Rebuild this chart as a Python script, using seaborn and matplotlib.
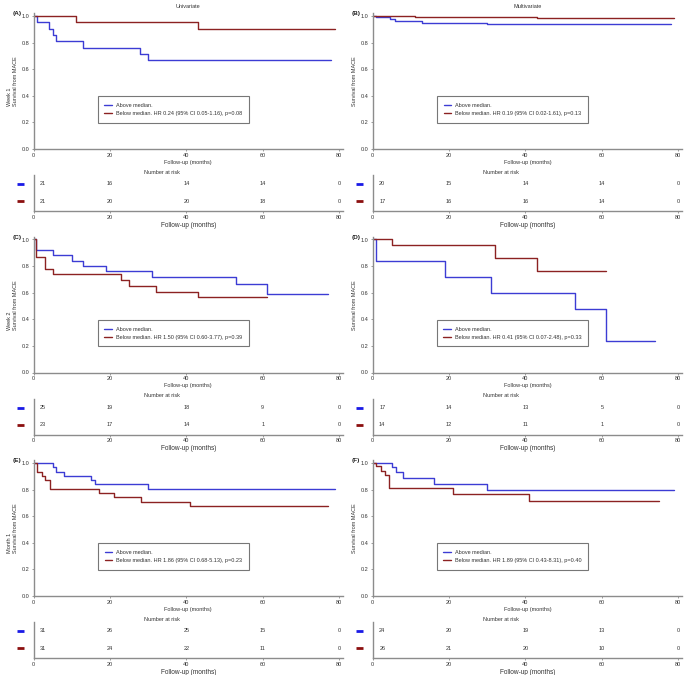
import numpy as np
import pandas as pd
import matplotlib
matplotlib.use("Agg")
import matplotlib.pyplot as plt
import seaborn as sns

sns.set_theme(style="ticks")
plt.rcParams['font.family'] = ['Liberation Sans', 'DejaVu Sans']

# ---------------- data ----------------
a_blue_t = [0, 1, 4, 5, 6, 13, 28, 30, 78]
a_blue_s = [1.0, 0.952, 0.905, 0.857, 0.810, 0.762, 0.714, 0.667, 0.667]
a_red_t = [0, 11, 43, 79]
a_red_s = [1.0, 0.952, 0.905, 0.905]

b_blue_t = [0, 0.9, 4.4, 5.8, 13, 30, 78]
b_blue_s = [1.0, 0.99, 0.98, 0.965, 0.95, 0.94, 0.94]
b_red_t = [0, 11, 43, 79]
b_red_s = [1.0, 0.993, 0.985, 0.985]

c_blue_t = [0, 0.7, 5, 10, 13, 19, 31, 53, 61, 77]
c_blue_s = [1.0, 0.92, 0.88, 0.84, 0.80, 0.76, 0.72, 0.665, 0.59, 0.59]
c_red_t = [0, 0.7, 3.1, 5.2, 23, 25, 32, 43, 61]
c_red_s = [1.0, 0.87, 0.78, 0.74, 0.696, 0.652, 0.609, 0.565, 0.565]

d_blue_t = [0, 0.9, 19, 31, 53, 61, 74]
d_blue_s = [1.0, 0.84, 0.715, 0.60, 0.48, 0.24, 0.24]
d_red_t = [0, 5.1, 32, 43, 61]
d_red_s = [1.0, 0.96, 0.86, 0.765, 0.765]

e_blue_t = [0, 5, 5.9, 8.1, 15.1, 16.1, 30, 79]
e_blue_s = [1.0, 0.968, 0.935, 0.903, 0.871, 0.839, 0.806, 0.806]
e_red_t = [0, 0.9, 2.2, 3.1, 4.2, 17.1, 21.1, 28.1, 41.1, 77]
e_red_s = [1.0, 0.935, 0.903, 0.871, 0.806, 0.774, 0.742, 0.710, 0.677, 0.677]

f_blue_t = [0, 5.1, 6.1, 8, 16, 30, 79]
f_blue_s = [1.0, 0.968, 0.93, 0.89, 0.845, 0.80, 0.80]
f_red_t = [0, 0.9, 2.1, 3.1, 4.2, 21, 41, 75]
f_red_s = [1.0, 0.975, 0.94, 0.91, 0.815, 0.767, 0.715, 0.715]

legend_above = "Above median."
legend_below = [
    "Below median. HR 0.24 (95% CI 0.05-1.16), p=0.08",
    "Below median. HR 0.19 (95% CI 0.02-1.61), p=0.13",
    "Below median. HR 1.50 (95% CI 0.60-3.77), p=0.39",
    "Below median. HR 0.41 (95% CI 0.07-2.48), p=0.33",
    "Below median. HR 1.86 (95% CI 0.68-5.13), p=0.23",
    "Below median. HR 1.89 (95% CI 0.43-8.31), p=0.40",
]

risk_times = [0, 20, 40, 60, 80]
risk_blue = [
    [21, 16, 14, 14, 0],
    [20, 15, 14, 14, 0],
    [25, 19, 18, 9, 0],
    [17, 14, 13, 5, 0],
    [31, 26, 25, 15, 0],
    [24, 20, 19, 13, 0],
]
risk_red = [
    [21, 20, 20, 18, 0],
    [17, 16, 16, 14, 0],
    [23, 17, 14, 1, 0],
    [14, 12, 11, 1, 0],
    [31, 24, 22, 11, 0],
    [26, 21, 20, 10, 0],
]

panel_labels = ["(A)", "(B)", "(C)", "(D)", "(E)", "(F)"]
row_labels = ["Week 1", "Week 2", "Month 1"]
col_titles = ["Univariate", "Multivariate"]

curves = [
    (a_blue_t, a_blue_s, a_red_t, a_red_s),
    (b_blue_t, b_blue_s, b_red_t, b_red_s),
    (c_blue_t, c_blue_s, c_red_t, c_red_s),
    (d_blue_t, d_blue_s, d_red_t, d_red_s),
    (e_blue_t, e_blue_s, e_red_t, e_red_s),
    (f_blue_t, f_blue_s, f_red_t, f_red_s),
]

# ---------------- style ----------------
BLUE = "#3c3cd4"
RED = "#8c2222"
BLUE_M = "#1a1ae6"
RED_M = "#8b0f0f"
SPINE = "#8c8c8c"
TXT = "#333333"
FS = 4.0

W, H = 685, 675
fig = plt.figure(figsize=(W / 100, H / 100), dpi=100)

col_x0 = [33.5, 372.7]
ax_w = 309.4


def style_axis(ax):
    for s in ["top", "right"]:
        ax.spines[s].set_visible(False)
    for s in ["left", "bottom"]:
        ax.spines[s].set_color(SPINE)
        ax.spines[s].set_linewidth(1.0)
    ax.tick_params(axis="both", labelsize=FS, length=1.6, width=0.6,
                   color=SPINE, labelcolor=TXT, pad=1.2)
    ax.set_xlim(0, 81)
    ax.set_xticks(risk_times)


for i in range(6):
    r, c = divmod(i, 2)
    T = 16 + 223.5 * r
    x0 = col_x0[c]
    # KM axes
    km_bottom = T + 133
    km_h = 133 * 1.02
    ax = fig.add_axes([x0 / W, 1 - km_bottom / H, ax_w / W, km_h / H])
    bt, bs, rt, rs = curves[i]
    df = pd.DataFrame({
        "time": list(bt) + list(rt),
        "surv": list(bs) + list(rs),
        "group": [legend_above] * len(bt) + [legend_below[i]] * len(rt),
    })
    sns.lineplot(data=df, x="time", y="surv", hue="group",
                 palette={legend_above: BLUE, legend_below[i]: RED},
                 drawstyle="steps-post", estimator=None, linewidth=1.0,
                 ax=ax, legend=True)
    style_axis(ax)
    ax.set_ylim(0, 1.02)
    ax.set_yticks([0, 0.2, 0.4, 0.6, 0.8, 1.0])
    ax.set_yticklabels(["0.0", "0.2", "0.4", "0.6", "0.8", "1.0"])
    ax.set_xlabel("Follow-up (months)", fontsize=FS, color=TXT, labelpad=1.5)
    if c == 0:
        ax.set_ylabel(row_labels[r] + "\nSurvival from MACE", fontsize=FS,
                      color=TXT, labelpad=2.5, multialignment="left",
                      linespacing=1.3)
    else:
        ax.set_ylabel("Survival from MACE", fontsize=FS, color=TXT, labelpad=2.5)
    if r == 0:
        ax.set_title(col_titles[c], fontsize=FS, color=TXT, pad=4)
    ax.text(-16.5 / 3.82, 1.0, panel_labels[i], transform=ax.transData,
            fontsize=4.6, fontweight="bold", color="#222222",
            ha="center", va="bottom")
    handles, labels = ax.get_legend_handles_labels()
    leg = ax.legend(handles, labels, loc="center", bbox_to_anchor=(0.452, 0.29),
                    fontsize=FS, frameon=True, fancybox=False,
                    edgecolor="#555555", handlelength=1.3, handletextpad=0.8,
                    borderpad=1.2, labelspacing=0.55, borderaxespad=0)
    leg.get_frame().set_linewidth(0.8)
    for t in leg.get_texts():
        t.set_color(TXT)

    # risk table axes
    rk_top = T + 159
    rk_bottom = T + 195
    axr = fig.add_axes([x0 / W, 1 - rk_bottom / H, ax_w / W, (rk_bottom - rk_top) / H])
    style_axis(axr)
    axr.set_ylim(0, 1)
    axr.set_yticks([])
    axr.set_facecolor("none")
    ry = {"blue": 0.75, "red": 0.27}
    for k, tt in enumerate(risk_times):
        xx = tt + 2.5 if k == 0 else tt
        axr.text(xx, ry["blue"], str(risk_blue[i][k]), fontsize=FS, color=TXT,
                 ha="center", va="center")
        axr.text(xx, ry["red"], str(risk_red[i][k]), fontsize=FS, color=TXT,
                 ha="center", va="center")
    axr.plot([-4.4, -2.6], [ry["blue"]] * 2, color=BLUE_M, lw=2.0,
             solid_capstyle="butt", clip_on=False)
    axr.plot([-4.4, -2.6], [ry["red"]] * 2, color=RED_M, lw=2.0,
             solid_capstyle="butt", clip_on=False)
    axr.text(33.7, 1.07, "Number at risk", fontsize=FS, color=TXT,
             ha="center", va="center", transform=axr.get_xaxis_transform())
    axr.set_xlabel("Follow-up (months)", fontsize=4.7, color=TXT, labelpad=1.3)

fig.savefig("out.png", dpi=100, facecolor="white")
